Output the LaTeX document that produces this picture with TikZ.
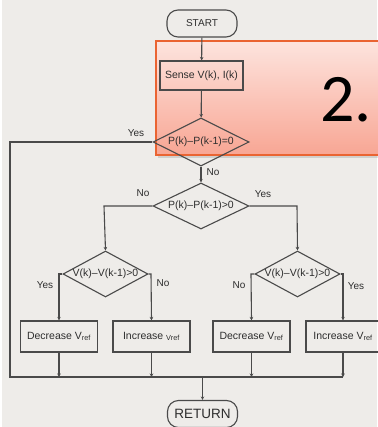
\documentclass[tikz,border=0pt]{standalone}
\usepackage{fontspec}
\setmainfont{Liberation Sans}
\newfontfamily\bigfont{Carlito}
\usetikzlibrary{shapes.geometric,arrows.meta,shadows}
\definecolor{bg}{HTML}{EEECE9}
\definecolor{ln}{HTML}{4A4A4A}
\definecolor{tx}{HTML}{2E2E2E}
\definecolor{ovtop}{HTML}{FDE4DE}
\definecolor{ovbot}{HTML}{F8A694}
\definecolor{ovline}{HTML}{EA6432}
\begin{document}
\begin{tikzpicture}[x=1pt,y=-1pt,
  every node/.style={text=tx,font=\fontsize{10.5}{11}\selectfont},
  line/.style={draw=ln,line width=1.1pt},
  arr/.style={line,-{Stealth[length=3.5pt,width=3.5pt]}},
  term/.style={draw=ln,line width=1.1pt,rounded corners=11pt,minimum width=70pt,minimum height=27pt,inner sep=0pt},
  procbox/.style={draw=ln,line width=1.1pt,minimum width=77pt,minimum height=31pt,inner sep=0pt},
  decision/.style={draw=ln,line width=1.1pt,diamond,inner sep=0pt},
  lbl/.style={font=\fontsize{10}{11}\selectfont}]
\useasboundingbox (0,0) rectangle (377,427);
\fill[bg] (0,0) rectangle (377,427);
\fill[white] (0,0) rectangle (2,427);
% overlay
\fill[black,opacity=0.12] (158,44) rectangle (390,158);
\shade[top color=ovtop,bottom color=ovbot] (156,41) rectangle (390,155);
\draw[ovline,line width=1.5pt] (390,41) -- (156,41) -- (156,155) -- (390,155);
\node[anchor=base west,inner sep=0pt,text=black,font=\bigfont\fontsize{68}{68}\selectfont] (num) at (320,122) {2.};
% nodes
\node[term,font=\fontsize{10}{11}\selectfont] (start) at (202,23.5) {START};
\node[procbox,minimum width=83pt,minimum height=29pt] (sense) at (201.5,75.5) {Sense V(k), I(k)};
\node[decision,minimum width=96pt,minimum height=48pt] (d1) at (201,142) {\makebox[0pt]{P(k)--P(k-1)=0}};
\node[decision,minimum width=96pt,minimum height=46pt] (d2) at (201,206) {\makebox[0pt]{P(k)--P(k-1)>0}};
\node[decision,minimum width=85pt,minimum height=46pt] (d3) at (105.5,274) {\makebox[0pt]{V(k)--V(k-1)>0}};
\node[decision,minimum width=85pt,minimum height=46pt] (d4) at (297.5,274) {\makebox[0pt]{V(k)--V(k-1)>0}};
\node[procbox] (bA) at (59,336.5) {Decrease V\textsubscript{ref}};
\node[procbox] (bB) at (151.5,336.5) {Increase \textsubscript{Vref}};
\node[procbox] (bC) at (251.5,336.5) {Decrease V\textsubscript{ref}};
\node[procbox,minimum width=74pt] (bD) at (343,336.5) {Increase V\textsubscript{ref}};
\node[term,font=\fontsize{13.5}{14}\selectfont] (ret) at (202.5,414) {RETURN};
% helper coordinates
\coordinate (yc) at (10,142);
\coordinate (busL) at (10,377);
\coordinate (busR) at (343,377);
\coordinate (busM) at (202.5,377);
\coordinate (d2L) at (104,206);
\coordinate (d2R) at (297,206);
\coordinate (d3L) at (59,274);
\coordinate (d3R) at (151,274);
\coordinate (d4L) at (251,274);
\coordinate (d4R) at (343,274);
% connectors
\draw[arr] (start) -- (sense);
\draw[arr] (sense) -- (d1);
\draw[arr] (d1) -- (d2);
\draw[line] (d1.west) -- (yc) -- (busL) -- (busR);
\draw[arr] (d2.west) -- (d2L) -- (d3.north);
\draw[arr] (d2.east) -- (d2R) -- (d4.north);
\draw[arr] (d3.west) -- (d3L) -- (bA.north);
\draw[arr] (d3.east) -- (d3R) -- (bB.north);
\draw[arr] (d4.west) -- (d4L) -- (bC.north);
\draw[arr] (d4.east) -- (d4R) -- (bD.north);
\foreach \b in {bA,bB,bC,bD} \draw[arr] (\b.south) -- (\b.south |- busL);
\draw[arr] (busM) -- (ret.north);
% labels
\node[lbl] (lyes1) at (136,133) {Yes};
\node[lbl] (lno1) at (213,172) {No};
\node[lbl] (lno2) at (143,193) {No};
\node[lbl] (lyes2) at (263,194) {Yes};
\node[lbl] (lyes3) at (45,285) {Yes};
\node[lbl] (lno3) at (163,283) {No};
\node[lbl] (lno4) at (239,285) {No};
\node[lbl] (lyes4) at (356,286) {Yes};
\end{tikzpicture}
\end{document}
